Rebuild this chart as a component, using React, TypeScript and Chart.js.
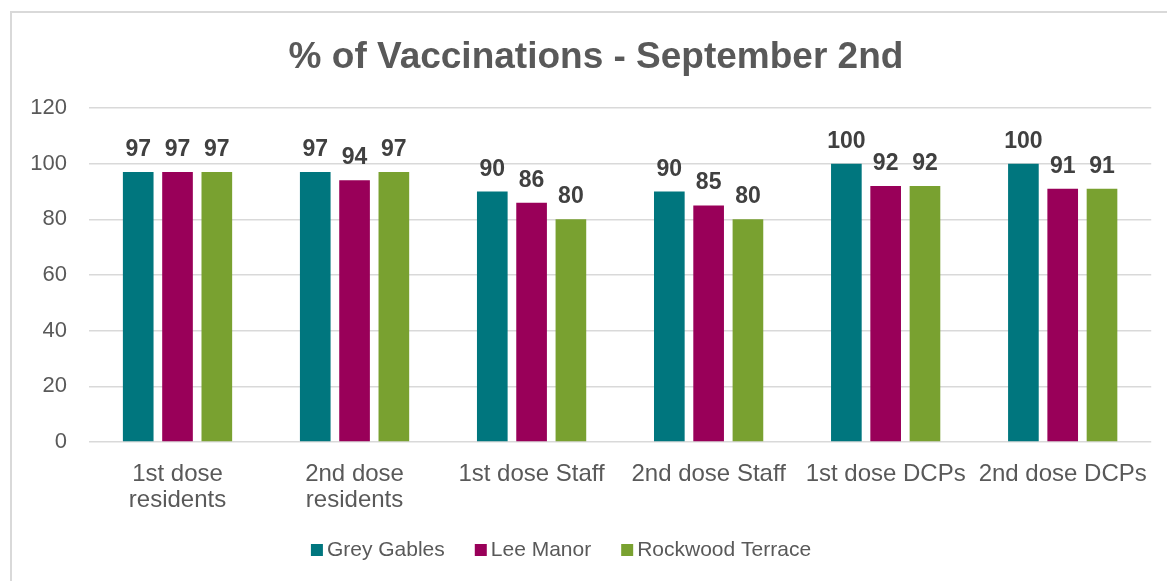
import React, { useEffect, useRef } from "react";
import { Chart, registerables } from "chart.js";

Chart.register(...registerables);

const categories: (string | string[])[] = [
  ["1st dose", "residents"],
  ["2nd dose", "residents"],
  "1st dose Staff",
  "2nd dose Staff",
  "1st dose DCPs",
  "2nd dose DCPs",
];
const seriesNames = ["Grey Gables", "Lee Manor", "Rockwood Terrace"];
const greyGables = [97, 97, 90, 90, 100, 100];
const leeManor = [97, 94, 86, 85, 92, 91];
const rockwoodTerrace = [97, 97, 80, 80, 92, 91];
const seriesColors = ["#00767E", "#990059", "#79A130"];
const yTicks = { min: 0, max: 120, step: 20 };
const titleText = "% of Vaccinations - September 2nd";

const FONT = "'Liberation Sans', Arial, sans-serif";

const titlePlugin = {
  id: "customTitle",
  afterDraw(chart: any) {
    const ctx = chart.ctx;
    ctx.save();
    ctx.font = `bold 37px ${FONT}`;
    ctx.fillStyle = "#595959";
    ctx.textAlign = "center";
    ctx.textBaseline = "alphabetic";
    ctx.fillText(titleText, 596, 68);
    ctx.restore();
  },
};

const dataLabelPlugin = {
  id: "dataLabels",
  afterDatasetsDraw(chart: any) {
    const ctx = chart.ctx;
    ctx.save();
    ctx.font = `bold 23px ${FONT}`;
    ctx.fillStyle = "#404040";
    ctx.textAlign = "center";
    ctx.textBaseline = "alphabetic";
    chart.data.datasets.forEach((ds: any, i: number) => {
      const meta = chart.getDatasetMeta(i);
      meta.data.forEach((el: any, j: number) => {
        ctx.fillText(String(ds.data[j]), el.x, el.y - 16);
      });
    });
    ctx.restore();
  },
};

const legendPlugin = {
  id: "customLegend",
  afterDraw(chart: any) {
    const ctx = chart.ctx;
    ctx.save();
    ctx.font = `21px ${FONT}`;
    const box = 12;
    const gapText = 4;
    const gapItem = 30;
    const items = chart.data.datasets.map((ds: any) => ({
      label: ds.label,
      color: ds.backgroundColor,
      w: ctx.measureText(ds.label).width,
    }));
    const total =
      items.reduce((s: number, it: any) => s + box + gapText + it.w, 0) +
      gapItem * (items.length - 1);
    const centerX = 561;
    const cy = 550;
    let x = centerX - total / 2;
    ctx.textBaseline = "middle";
    ctx.textAlign = "left";
    items.forEach((it: any) => {
      ctx.fillStyle = it.color;
      ctx.fillRect(x, cy - box / 2, box, box);
      x += box + gapText;
      ctx.fillStyle = "#595959";
      ctx.fillText(it.label, x, cy);
      x += it.w + gapItem;
    });
    ctx.restore();
  },
};

export default function App() {
  const ref = useRef<HTMLCanvasElement | null>(null);

  useEffect(() => {
    if (!ref.current) return;
    const values = [greyGables, leeManor, rockwoodTerrace];
    const chart = new Chart(ref.current, {
      type: "bar",
      data: {
        labels: categories,
        datasets: seriesNames.map((name, i) => ({
          label: name,
          data: values[i],
          backgroundColor: seriesColors[i],
          borderWidth: 0,
          categoryPercentage: 0.666,
          barPercentage: 0.78,
        })),
      },
      options: {
        animation: false,
        responsive: false,
        maintainAspectRatio: false,
        layout: { padding: { left: 0, right: 15, top: 108, bottom: 0 } },
        plugins: {
          legend: { display: false },
          tooltip: { enabled: false },
          title: { display: false },
        },
        scales: {
          x: {
            grid: { display: false, drawTicks: false },
            border: { display: false },
            ticks: {
              color: "#595959",
              font: { family: FONT, size: 24, lineHeight: 1.1 },
              padding: 19,
              maxRotation: 0,
              autoSkip: false,
            },
            afterFit(s: any) {
              s.height = 139;
            },
          },
          y: {
            min: yTicks.min,
            max: yTicks.max,
            grid: { color: "#D9D9D9", lineWidth: 1.5, drawTicks: false },
            border: { display: false },
            ticks: {
              stepSize: yTicks.step,
              color: "#595959",
              font: { family: FONT, size: 22 },
              padding: 22,
            },
            afterFit(s: any) {
              s.width = 89;
            },
          },
        },
      },
      plugins: [dataLabelPlugin, titlePlugin, legendPlugin],
    });
    return () => chart.destroy();
  }, []);

  return (
    <div
      style={{
        position: "absolute",
        left: 0,
        top: 0,
        width: 1167,
        height: 581,
        overflow: "hidden",
        background: "#fff",
      }}
    >
      <div
        style={{
          position: "absolute",
          left: 10,
          top: 11,
          width: 1300,
          height: 700,
          border: "2px solid #D9D9D9",
          boxSizing: "border-box",
        }}
      />
      <canvas
        ref={ref}
        width={1167}
        height={581}
        style={{ position: "absolute", left: 0, top: 0, width: 1167, height: 581 }}
      />
    </div>
  );
}
